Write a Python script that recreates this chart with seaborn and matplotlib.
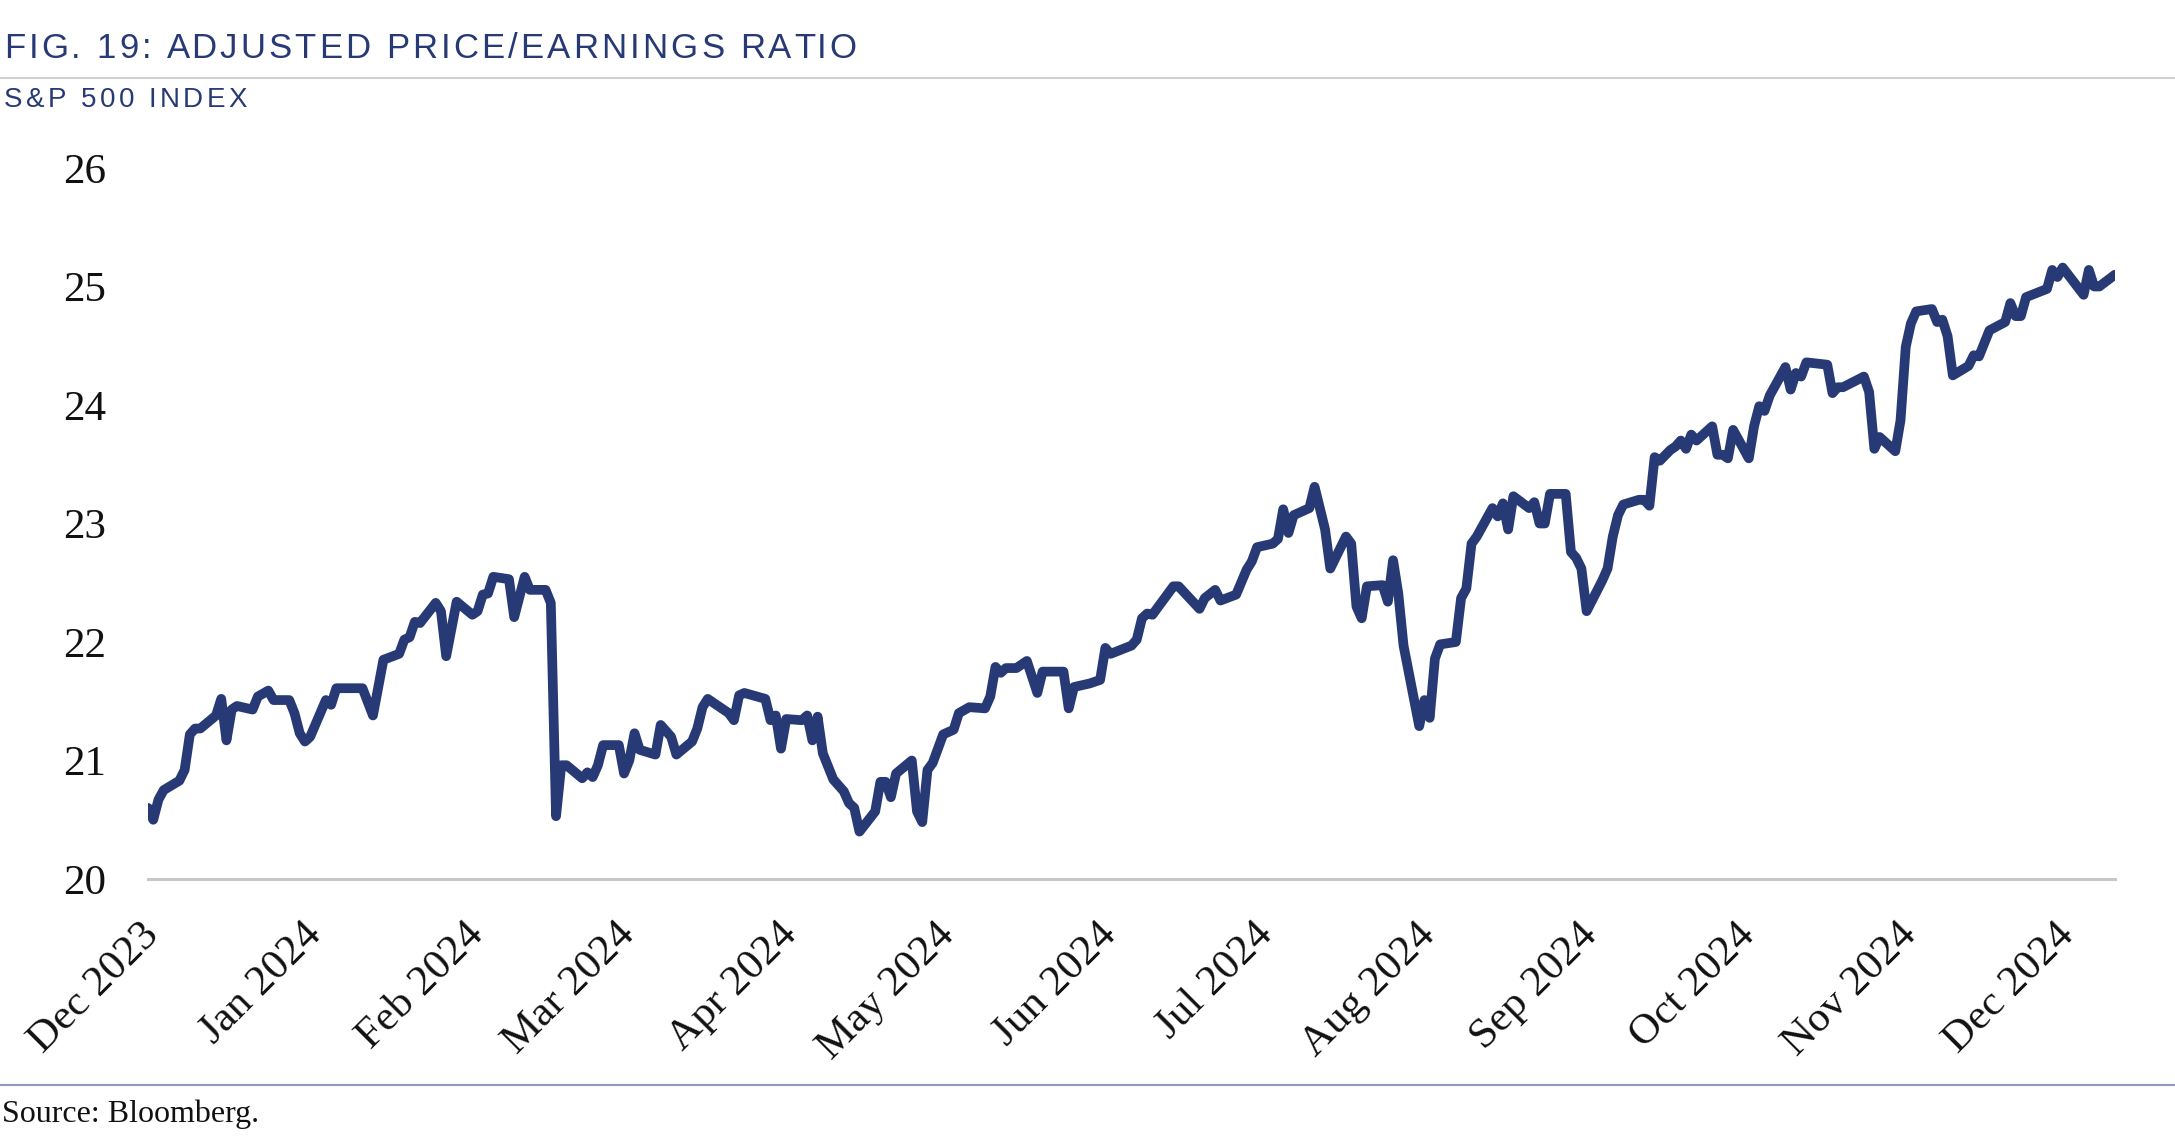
import matplotlib
matplotlib.use("Agg")
import matplotlib.pyplot as plt
from matplotlib.font_manager import FontProperties
from matplotlib.transforms import ScaledTranslation
import seaborn as sns
import pandas as pd

# ---- data ----
dates = [
    "2023-12-01", "2023-12-02", "2023-12-03", "2023-12-04", "2023-12-07", "2023-12-08",
    "2023-12-09", "2023-12-10", "2023-12-11", "2023-12-14", "2023-12-15", "2023-12-16",
    "2023-12-17", "2023-12-18", "2023-12-21", "2023-12-22", "2023-12-24", "2023-12-25",
    "2023-12-28", "2023-12-29", "2023-12-30", "2023-12-31", "2024-01-01", "2024-01-04",
    "2024-01-05", "2024-01-06", "2024-01-11", "2024-01-13", "2024-01-15", "2024-01-18",
    "2024-01-19", "2024-01-20", "2024-01-21", "2024-01-22", "2024-01-25", "2024-01-26",
    "2024-01-27", "2024-01-29", "2024-02-01", "2024-02-02", "2024-02-03", "2024-02-04",
    "2024-02-05", "2024-02-08", "2024-02-09", "2024-02-11", "2024-02-12", "2024-02-15",
    "2024-02-16", "2024-02-17", "2024-02-18", "2024-02-19", "2024-02-22", "2024-02-23",
    "2024-02-24", "2024-02-25", "2024-02-26", "2024-02-29", "2024-03-01", "2024-03-02",
    "2024-03-03", "2024-03-04", "2024-03-07", "2024-03-08", "2024-03-10", "2024-03-11",
    "2024-03-14", "2024-03-15", "2024-03-16", "2024-03-17", "2024-03-21", "2024-03-22",
    "2024-03-23", "2024-03-24", "2024-03-28", "2024-03-29", "2024-03-30", "2024-03-31",
    "2024-04-01", "2024-04-04", "2024-04-05", "2024-04-06", "2024-04-07", "2024-04-08",
    "2024-04-10", "2024-04-12", "2024-04-13", "2024-04-14", "2024-04-15", "2024-04-18",
    "2024-04-19", "2024-04-20", "2024-04-21", "2024-04-22", "2024-04-25", "2024-04-26",
    "2024-04-27", "2024-04-28", "2024-04-29", "2024-05-01", "2024-05-03", "2024-05-04",
    "2024-05-06", "2024-05-09", "2024-05-10", "2024-05-11", "2024-05-12", "2024-05-13",
    "2024-05-15", "2024-05-17", "2024-05-19", "2024-05-20", "2024-05-24", "2024-05-25",
    "2024-05-26", "2024-05-29", "2024-05-31", "2024-06-01", "2024-06-02", "2024-06-06",
    "2024-06-07", "2024-06-08", "2024-06-09", "2024-06-10", "2024-06-14", "2024-06-15",
    "2024-06-19", "2024-06-20", "2024-06-22", "2024-06-23", "2024-06-26", "2024-06-28",
    "2024-06-29", "2024-06-30", "2024-07-03", "2024-07-04", "2024-07-05", "2024-07-06",
    "2024-07-07", "2024-07-10", "2024-07-11", "2024-07-13", "2024-07-14", "2024-07-17",
    "2024-07-18", "2024-07-19", "2024-07-20", "2024-07-21", "2024-07-24", "2024-07-25",
    "2024-07-26", "2024-07-27", "2024-07-28", "2024-07-31", "2024-08-01", "2024-08-02",
    "2024-08-03", "2024-08-04", "2024-08-07", "2024-08-08", "2024-08-09", "2024-08-10",
    "2024-08-11", "2024-08-14", "2024-08-15", "2024-08-16", "2024-08-17", "2024-08-18",
    "2024-08-21", "2024-08-22", "2024-08-23", "2024-08-24", "2024-08-25", "2024-08-28",
    "2024-08-29", "2024-08-30", "2024-08-31", "2024-09-01", "2024-09-04", "2024-09-05",
    "2024-09-06", "2024-09-07", "2024-09-08", "2024-09-11", "2024-09-12", "2024-09-13",
    "2024-09-14", "2024-09-15", "2024-09-17", "2024-09-18", "2024-09-19", "2024-09-20",
    "2024-09-21", "2024-09-22", "2024-09-25", "2024-09-26", "2024-09-27", "2024-09-28",
    "2024-09-29", "2024-10-02", "2024-10-03", "2024-10-04", "2024-10-05", "2024-10-06",
    "2024-10-09", "2024-10-10", "2024-10-11", "2024-10-12", "2024-10-13", "2024-10-17",
    "2024-10-18", "2024-10-19", "2024-10-20", "2024-10-24", "2024-10-25", "2024-10-26",
    "2024-10-27", "2024-10-30", "2024-10-31", "2024-11-01", "2024-11-02", "2024-11-03",
    "2024-11-06", "2024-11-07", "2024-11-08", "2024-11-09", "2024-11-10", "2024-11-13",
    "2024-11-14", "2024-11-15", "2024-11-17", "2024-11-20", "2024-11-21", "2024-11-22",
    "2024-11-23", "2024-11-24", "2024-11-28", "2024-11-29", "2024-11-30", "2024-12-01",
    "2024-12-05", "2024-12-06", "2024-12-07", "2024-12-08", "2024-12-11",
]
pe_ratio = [
    20.60, 20.50, 20.67, 20.75, 20.83, 20.92,
    21.22, 21.27, 21.27, 21.38, 21.52, 21.17,
    21.43, 21.46, 21.43, 21.54, 21.59, 21.51,
    21.51, 21.40, 21.23, 21.16, 21.20, 21.51,
    21.47, 21.61, 21.61, 21.38, 21.85, 21.90,
    22.02, 22.04, 22.17, 22.16, 22.33, 22.26,
    21.88, 22.34, 22.23, 22.26, 22.40, 22.41,
    22.55, 22.53, 22.21, 22.55, 22.44, 22.44,
    22.33, 20.53, 20.96, 20.96, 20.85, 20.90,
    20.86, 20.96, 21.13, 21.13, 20.89, 21.00,
    21.23, 21.09, 21.05, 21.30, 21.20, 21.05,
    21.16, 21.27, 21.45, 21.52, 21.40, 21.34,
    21.55, 21.57, 21.52, 21.34, 21.38, 21.10,
    21.35, 21.34, 21.38, 21.17, 21.37, 21.06,
    20.84, 20.74, 20.64, 20.60, 20.40, 20.57,
    20.82, 20.82, 20.69, 20.89, 21.00, 20.57,
    20.48, 20.92, 20.98, 21.22, 21.26, 21.40,
    21.45, 21.44, 21.54, 21.79, 21.74, 21.78,
    21.78, 21.84, 21.57, 21.75, 21.75, 21.44,
    21.62, 21.65, 21.68, 21.95, 21.90, 21.97,
    22.02, 22.20, 22.24, 22.23, 22.47, 22.47,
    22.28, 22.37, 22.44, 22.35, 22.40, 22.61,
    22.68, 22.80, 22.83, 22.87, 23.12, 22.92,
    23.07, 23.13, 23.31, 22.95, 22.62, 22.89,
    22.83, 22.30, 22.20, 22.47, 22.48, 22.34,
    22.69, 22.41, 21.97, 21.29, 21.51, 21.36,
    21.86, 21.98, 22.00, 22.37, 22.45, 22.83,
    22.89, 23.13, 23.06, 23.17, 22.95, 23.23,
    23.13, 23.18, 23.00, 23.00, 23.25, 23.25,
    22.76, 22.71, 22.62, 22.26, 22.52, 22.62,
    22.89, 23.07, 23.16, 23.20, 23.20, 23.15,
    23.56, 23.53, 23.62, 23.65, 23.70, 23.63,
    23.75, 23.70, 23.82, 23.58, 23.58, 23.55,
    23.79, 23.55, 23.82, 23.99, 23.95, 24.08,
    24.32, 24.13, 24.27, 24.24, 24.36, 24.34,
    24.10, 24.15, 24.15, 24.24, 24.11, 23.63,
    23.73, 23.61, 23.87, 24.49, 24.69, 24.79,
    24.81, 24.70, 24.72, 24.58, 24.25, 24.33,
    24.42, 24.41, 24.63, 24.70, 24.86, 24.75,
    24.75, 24.91, 24.98, 25.14, 25.08, 25.16,
    24.93, 25.14, 25.00, 25.00, 25.10,
]
month_ticks = ["2023-12-01", "2024-01-01", "2024-02-01", "2024-03-01", "2024-04-01",
               "2024-05-01", "2024-06-01", "2024-07-01", "2024-08-01", "2024-09-01",
               "2024-10-01", "2024-11-01", "2024-12-01"]
month_labels = ["Dec 2023", "Jan 2024", "Feb 2024", "Mar 2024", "Apr 2024", "May 2024",
                "Jun 2024", "Jul 2024", "Aug 2024", "Sep 2024", "Oct 2024", "Nov 2024",
                "Dec 2024"]
y_ticks = [20, 21, 22, 23, 24, 25, 26]

title = "FIG. 19: ADJUSTED PRICE/EARNINGS RATIO"
subtitle = "S&P 500 INDEX"
source = "Source: Bloomberg."

NAVY = "#273a75"
W, H = 2175, 1140

sns.set_theme(style="white")
plt.rcParams["font.family"] = ["Liberation Serif", "DejaVu Serif"]

df = pd.DataFrame({"date": pd.to_datetime(dates), "pe": pe_ratio})

fig = plt.figure(figsize=(W / 100, H / 100), dpi=100)
ax = fig.add_axes([148 / W, 1 - 879 / H, (2115 - 148) / W, (879 - 168) / H])

sns.lineplot(data=df, x="date", y="pe", ax=ax, color=NAVY, linewidth=7,
             estimator=None, sort=False, solid_joinstyle="round", solid_capstyle="round")

ax.set_xlim(pd.Timestamp("2023-12-01"), pd.Timestamp("2024-12-11"))
ax.set_ylim(20, 26)
ax.set_yticks(y_ticks)
ax.set_yticklabels([str(v) for v in y_ticks], fontsize=31, color="#111111")
ax.set_xticks(pd.to_datetime(month_ticks))
ax.set_xticklabels(month_labels, fontsize=31, color="#111111", rotation=45,
                   ha="right", va="center", rotation_mode="anchor")
ax.tick_params(axis="x", length=0, pad=36)
ax.tick_params(axis="y", length=0, pad=30)
shift = ScaledTranslation(5 / 100, 0, fig.dpi_scale_trans)
for lab in ax.get_xticklabels():
    lab.set_transform(lab.get_transform() + shift)
ax.set_xlabel("")
ax.set_ylabel("")
ax.grid(False)
for s in ["top", "right", "left"]:
    ax.spines[s].set_visible(False)
ax.spines["bottom"].set_color("#c8c8c8")
ax.spines["bottom"].set_linewidth(2.2)
ax.set_facecolor("white")


def tracked_text(x_px, y_px, s, size, color, family, total_width_px):
    """Draw text with extra letter spacing so it spans total_width_px."""
    renderer = fig.canvas.get_renderer()
    fp = FontProperties(family=family, size=size)
    widths = [0.0] + [renderer.get_text_width_height_descent(s[:i], fp, ismath=False)[0]
                      for i in range(1, len(s) + 1)]
    track = (total_width_px - widths[-1]) / (len(s) - 1)
    for i, ch in enumerate(s):
        if ch == " ":
            continue
        fig.text((x_px + widths[i] + i * track) / W, 1 - y_px / H, ch, fontproperties=fp,
                 color=color, va="center", ha="left")


sans = ["Liberation Sans", "DejaVu Sans"]
tracked_text(4, 48, title, 25, NAVY, sans, 852)
tracked_text(4, 100, subtitle, 20, NAVY, sans, 243)
fig.add_artist(plt.Line2D([0, 1], [1 - 78 / H, 1 - 78 / H], color="#d0d0d0", lw=1.5))
fig.add_artist(plt.Line2D([0, 1], [1 - 1085 / H, 1 - 1085 / H], color="#8e9abb", lw=1.5))
fig.text(2 / W, 1 - 1114 / H, source, fontsize=23, color="#111111", va="center", ha="left")

fig.savefig("out.png", dpi=100, facecolor="white")
